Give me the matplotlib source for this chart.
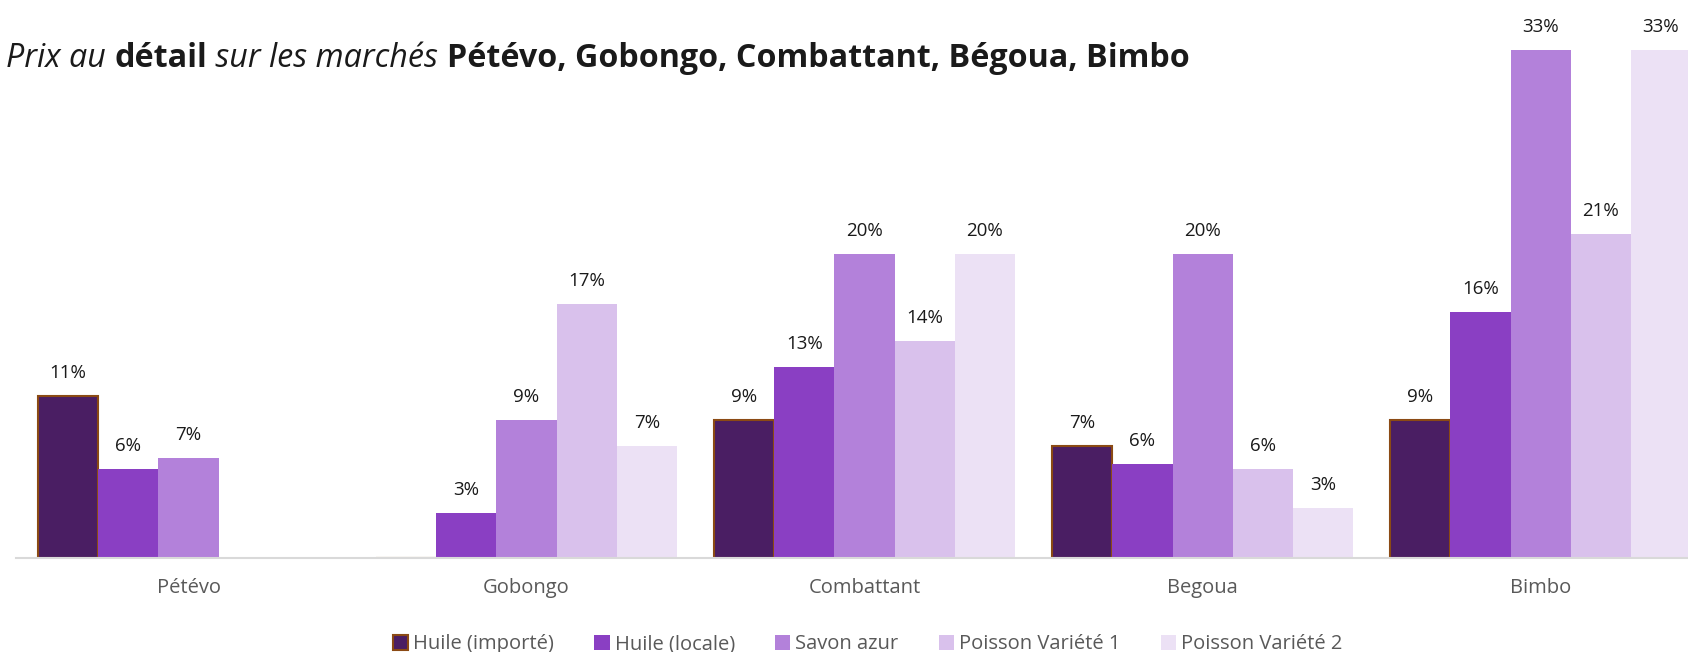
import matplotlib
matplotlib.use("Agg")
import matplotlib.pyplot as plt
import numpy as np
from matplotlib.patches import Patch

markets = ["Pétévo", "Gobongo", "Combattant", "Begoua", "Bimbo"]
series_names = ["Huile (importé)", "Huile (locale)", "Savon azur", "Poisson Variété 1", "Poisson Variété 2"]
huile_importe = [0.107, np.nan, 0.091, 0.074, 0.091]
huile_locale = [0.059, 0.030, 0.126, 0.062, 0.162]
savon_azur = [0.066, 0.091, 0.200, 0.200, 0.334]
poisson_v1 = [np.nan, 0.167, 0.143, 0.059, 0.213]
poisson_v2 = [np.nan, 0.074, 0.200, 0.033, 0.334]
series_values = [huile_importe, huile_locale, savon_azur, poisson_v1, poisson_v2]

colors = ["#4A1E63", "#8A3FC3", "#B381DA", "#D9C1EC", "#ECE1F5"]
edgecolors = ["#8B4A14", "none", "none", "none", "none"]

plt.rcParams['font.family'] = ['Open Sans', 'DejaVu Sans']

W, H = 1688, 652
fig = plt.figure(figsize=(W / 100, H / 100), dpi=100)
ax = fig.add_axes([15 / 1568, 1 - 519 / 606, 1 - 15 / 1568, 519 / 606])

x = np.arange(len(markets))
bw = 0.178
for i, (vals, c, ec) in enumerate(zip(series_values, colors, edgecolors)):
    pos = x + (i - 2) * bw
    v = np.array(vals, dtype=float)
    ax.bar(pos, np.nan_to_num(v), width=bw, color=c,
           edgecolor=ec, linewidth=1.5 if ec != "none" else 0, zorder=2)
    for p, val in zip(pos, v):
        if not np.isnan(val):
            ax.annotate(f"{round(val * 100):d}%", xy=(p, val), xytext=(0, 10),
                        textcoords="offset points", ha="center", va="bottom",
                        fontsize=13.5, color="#1a1a1a", annotation_clip=False)

ax.set_xlim(-0.51, 4.436)
ax.set_ylim(0, 0.367)
ax.set_xticks(x)
ax.set_xticklabels(markets, fontsize=14.5, color="#595959")
ax.tick_params(axis="x", length=0, pad=14)
ax.set_yticks([])
for s in ["top", "right", "left"]:
    ax.spines[s].set_visible(False)
ax.spines["bottom"].set_color("#D9D9D9")
ax.spines["bottom"].set_linewidth(1.5)
ax.patch.set_alpha(0)

handles = [Patch(facecolor=c, edgecolor=(ec if ec != "none" else c), linewidth=1.5 if ec != "none" else 0)
           for c, ec in zip(colors, edgecolors)]
fig.legend(handles, series_names, loc="center", bbox_to_anchor=(0.514, 0.012), ncol=5,
           frameon=False, fontsize=14.5, labelcolor="#595959", handlelength=0.75,
           handleheight=0.75, handletextpad=0.25, columnspacing=2.0)

# Title with mixed styles
segments = [("Prix au ", "italic", "normal"), ("détail", "normal", "bold"),
            (" sur les marchés ", "italic", "normal"),
            ("Pétévo, Gobongo, Combattant, Bégoua, Bimbo", "normal", "bold")]
fig.canvas.draw()
renderer = fig.canvas.get_renderer()
xpos = 6 / 1568
ty = 1 - 62 / 606
for txt, style, weight in segments:
    t = fig.text(xpos, ty, txt, fontsize=23.2, style=style, weight=weight,
                 color="#1a1a1a", va="baseline", ha="left")
    bb = t.get_window_extent(renderer)
    xpos += bb.width / W

fig.savefig("out.png", dpi=100)
